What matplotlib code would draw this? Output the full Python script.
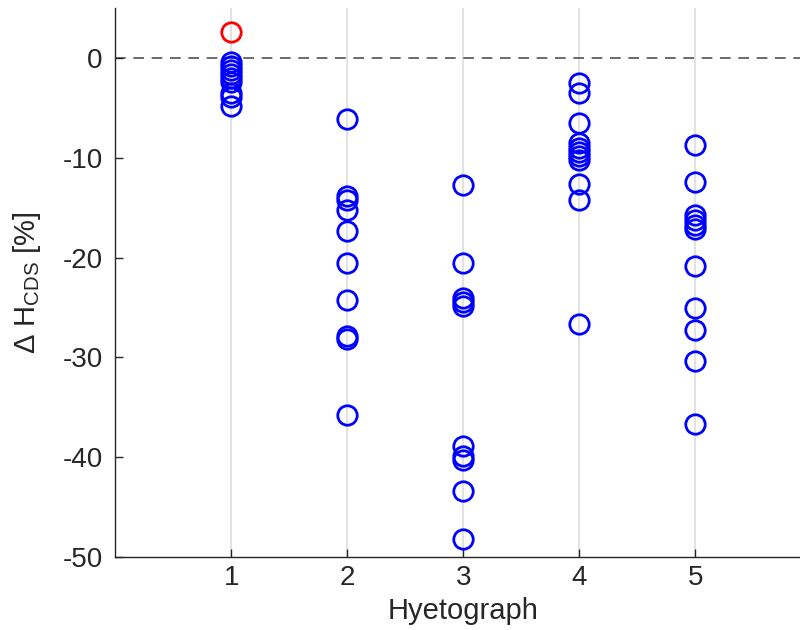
import matplotlib
matplotlib.use('Agg')
import matplotlib.pyplot as plt

plt.rcParams['font.family'] = ['Liberation Sans', 'DejaVu Sans']
plt.rcParams['axes.unicode_minus'] = False
plt.rcParams['mathtext.default'] = 'regular'

# data
hyeto = [1, 2, 3, 4, 5]
dh_1 = [-0.4, -0.8, -1.2, -1.6, -2.0, -2.4, -3.5, -3.9, -4.8]
dh_1_pos = [2.6]
dh_2 = [-6.1, -13.8, -14.2, -15.2, -17.3, -20.5, -24.2, -27.9, -28.2, -35.8]
dh_3 = [-12.7, -20.5, -24.0, -24.4, -24.9, -38.9, -39.9, -40.3, -43.4, -48.2]
dh_4 = [-2.5, -3.5, -6.5, -8.5, -9.0, -9.4, -9.8, -10.2, -12.6, -14.2, -26.7]
dh_5 = [-8.7, -12.4, -15.7, -16.2, -16.7, -17.1, -20.8, -25.1, -27.3, -30.4, -36.7]
yticks = [0, -10, -20, -30, -40, -50]

fig = plt.figure(figsize=(8, 6.3), dpi=100)
ax = fig.add_axes([0.144, 0.116, 0.870, 0.871])

for x in hyeto:
    ax.axvline(x, color='#dddddd', lw=1.2, zorder=0)
ax.axhline(0, color='#444444', lw=1.1, ls=(0, (7, 5)), zorder=1)

mk = dict(ls='none', marker='o', ms=14, mfc='none', mew=2.0, zorder=3)
groups = [dh_1, dh_2, dh_3, dh_4, dh_5]
for x, vals in zip(hyeto, groups):
    ax.plot([x] * len(vals), vals, mec='#0000ff', **mk)
ax.plot([1] * len(dh_1_pos), dh_1_pos, mec='#ff0000', **mk)

ax.set_xlim(0, 6)
ax.set_ylim(-50, 5)
ax.set_xticks(hyeto)
ax.set_yticks(yticks)
ax.tick_params(direction='in', length=6, width=1, colors='#262626',
               labelsize=20)
ax.tick_params(axis='y', pad=9)
ax.tick_params(axis='x', pad=6)
for s in ['top', 'right']:
    ax.spines[s].set_visible(False)
for s in ['left', 'bottom']:
    ax.spines[s].set_color('#262626')
    ax.spines[s].set_linewidth(1)

ax.set_xlabel('Hyetograph', fontsize=21, color='#262626', labelpad=4)
ax.set_ylabel('Δ H$_{CDS}$ [%]', fontsize=21, color='#262626', labelpad=14)

fig.savefig('out.png', dpi=100)
